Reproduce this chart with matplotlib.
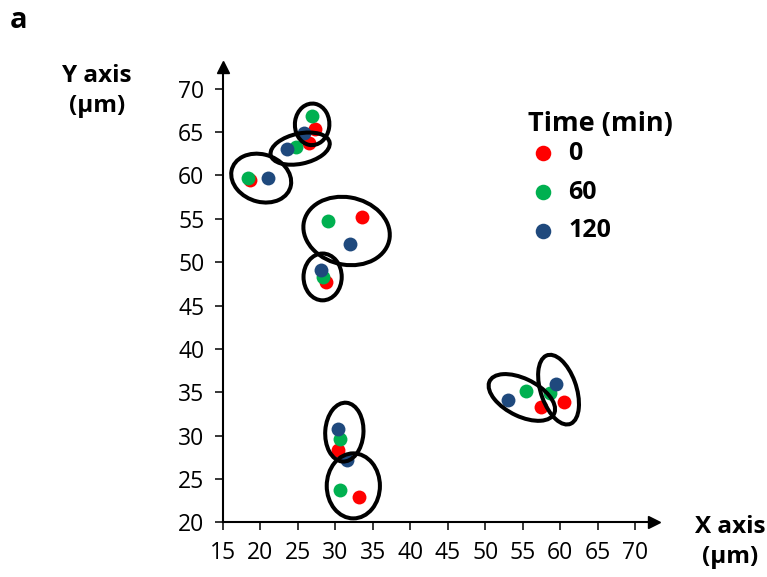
import numpy as np
import matplotlib.pyplot as plt
from matplotlib.patches import Ellipse

plt.rcParams['font.family'] = ['Open Sans', 'DejaVu Sans']

# cell positions (um) at each time point
x_0 = [27.3, 26.5, 18.6, 33.5, 28.7, 30.4, 33.1, 57.5, 60.5]
y_0 = [65.4, 63.7, 59.5, 55.2, 47.75, 28.3, 22.9, 33.3, 33.9]
x_60 = [26.84, 24.7, 18.4, 29.0, 28.4, 30.6, 30.6, 55.5, 58.7]
y_60 = [66.9, 63.3, 59.7, 54.7, 48.3, 29.6, 23.7, 35.1, 34.9]
x_120 = [25.8, 23.5, 21.0, 32.0, 28.1, 30.4, 31.5, 53.0, 59.5]
y_120 = [64.9, 63.1, 59.7, 52.1, 49.1, 30.8, 27.2, 34.1, 35.9]

# ellipses grouping the cells: centre x, centre y, width, height, angle
ell_x = [26.9, 25.3, 20.1, 31.5, 28.3, 31.2, 32.4, 54.9, 59.8]
ell_y = [65.9, 63.1, 59.7, 53.6, 48.3, 30.4, 24.2, 34.4, 35.3]
ell_w = [4.6, 8.0, 8.1, 11.6, 5.1, 5.1, 7.1, 9.4, 8.5]
ell_h = [4.8, 3.5, 5.5, 7.8, 5.4, 6.8, 7.5, 4.4, 4.7]
ell_a = [-10, 10, -12, -8, 0, -5, 0, -22, 113]

xticks = np.arange(15, 71, 5)
yticks = np.arange(20, 71, 5)

fig = plt.figure(figsize=(7.67, 5.77), dpi=100)
W, H = 767, 577
ax = fig.add_axes([223 / W, 1 - 522.3 / H, (654 - 223) / W, (522.3 - 67) / H])

ax.scatter(x_0, y_0, s=100, color='#FF0000', linewidths=0, zorder=3, label='0')
ax.scatter(x_60, y_60, s=100, color='#00B050', linewidths=0, zorder=4, label='60')
ax.scatter(x_120, y_120, s=100, color='#1F497D', linewidths=0, zorder=5, label='120')

for cx, cy, w, h, a in zip(ell_x, ell_y, ell_w, ell_h, ell_a):
    ax.add_patch(Ellipse((cx, cy), w, h, angle=a, fill=False, ec='black', lw=2.9, zorder=6))

ax.set_xlim(15, 15 + (654 - 223) / 7.49)
ax.set_ylim(20, 20 + (522.3 - 67) / 8.67)
ax.set_xticks(xticks)
ax.set_yticks(yticks)
ax.tick_params(direction='out', length=5.5, width=1.1, labelsize=16.5, pad=8, colors='black')

for s in ['top', 'right']:
    ax.spines[s].set_visible(False)
for s in ['left', 'bottom']:
    ax.spines[s].set_linewidth(1.5)

# arrow heads on the axes
ax.plot(1, 0, '>k', ms=9, transform=ax.transAxes, clip_on=False)
ax.plot(0, 1, '^k', ms=9, transform=ax.transAxes, clip_on=False)

fig.text(97 / W, 1 - 91 / H, 'Y axis\n(μm)', ha='center', va='center',
         fontsize=17.5, fontweight='bold', linespacing=1.3)
fig.text(730 / W, 1 - 542 / H, 'X axis\n(μm)', ha='center', va='center',
         fontsize=17.5, fontweight='bold', linespacing=1.3)
fig.text(10 / W, 1 - 21 / H, 'a', ha='left', va='center', fontsize=21, fontweight='bold')

fig.text(600 / W, 1 - 124 / H, 'Time (min)', ha='center', va='center',
         fontsize=19.5, fontweight='bold')
leg = ax.legend(loc='upper left', bbox_to_anchor=(527 / W, 1 - 141 / H),
                bbox_transform=fig.transFigure, frameon=False,
                prop={'weight': 'bold', 'size': 18},
                markerscale=1.12, handlelength=1.25, handletextpad=0.4, labelspacing=0.55,
                borderpad=0, borderaxespad=0)

fig.savefig('out.png', dpi=100)
